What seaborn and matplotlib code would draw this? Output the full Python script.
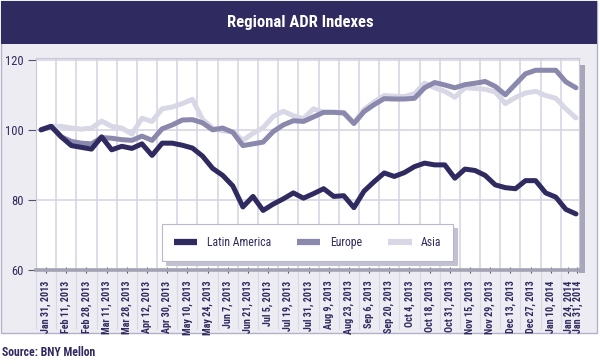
import matplotlib
matplotlib.use("Agg")

import matplotlib.pyplot as plt
import matplotlib.transforms as mtransforms
import numpy as np
import pandas as pd
import seaborn as sns
from matplotlib import font_manager
from matplotlib.lines import Line2D
from matplotlib.patches import Rectangle


# weekly index values, Jan 31 2013 -> Jan 31 2014 (54 points)
latin_america = [100, 101, 98, 95.5, 95, 94.5, 98, 94.3, 95.3, 94.7,
                 96, 92.7, 96.2, 96.2, 95.6, 94.8, 92.5, 89, 87, 84,
                 78, 81, 77, 78.8, 80.3, 82, 80.5, 81.8, 83.2, 81,
                 81.2, 77.8, 82.5, 85.2, 87.7, 86.7, 87.8, 89.5, 90.5, 90,
                 90, 86.2, 88.8, 88.4, 87, 84.3, 83.5, 83.2, 85.5, 85.5,
                 82, 80.8, 77.3, 76]
europe = [100, 101, 98, 96.7, 96.2, 96, 97.8, 97.6, 97.2, 97,
          98.2, 97, 100.3, 101.4, 102.8, 102.9, 102, 100, 100.5, 99.3,
          95.5, 96, 96.5, 99.5, 101.4, 102.6, 102.4, 103.7, 105, 105,
          104.8, 101.8, 105.2, 107.2, 108.9, 108.8, 108.8, 109, 112, 113.5,
          112.8, 112, 112.9, 113.3, 113.8, 112.4, 110, 113, 116, 117,
          117, 117, 113.7, 112]
asia = [100, 101, 101, 100.5, 100.2, 100.5, 102.5, 101, 100.5, 98.8,
        103.3, 102.4, 106, 106.5, 107.5, 108.7, 103, 100.5, 99.7, 99.5,
        97, 99, 100.6, 103.8, 105.3, 104, 103.2, 106, 105, 105,
        105, 102, 105.8, 108, 109.8, 109.6, 109.5, 110.3, 113.3, 112,
        111, 109.3, 112, 111.8, 111.6, 110.8, 107.5, 109.2, 110.5, 111,
        109.8, 109, 106, 103.4]

tick_labels = ["Jan 31, 2013", "Feb 11, 2013", "Feb 28, 2013", "Mar 11, 2013", "Mar 28, 2013",
               "Apr 12, 2013", "Apr 30, 2013", "May 10, 2013", "May 24, 2013", "Jun 7, 2013",
               "Jun 21, 2013", "Jul 5, 2013", "Jul 19, 2013", "Jul 31, 2013", "Aug 9, 2013",
               "Aug 23, 2013", "Sep 6, 2013", "Sep 20, 2013", "Oct 4, 2013", "Oct 18, 2013",
               "Oct 31, 2013", "Nov 15, 2013", "Nov 29, 2013", "Dec 13, 2013", "Dec 27, 2013",
               "Jan 10, 2014", "Jan 24, 2014", "Jan 31, 2014"]

regions = ["Latin America", "Europe", "Asia"]
colors = {"Latin America": "#2f2a5f", "Europe": "#8b88ae", "Asia": "#d8d7e6"}

NAVY = "#2f2a5f"
PANEL = "#ececf2"
GRID = "#d3d2e2"

sns.set_theme(style="white")
installed = {f.name for f in font_manager.fontManager.ttflist}
candidates = ["Roboto Condensed", "Liberation Sans Narrow", "Open Sans Condensed", "Roboto", "DejaVu Sans"]
NARROW = next(name for name in candidates if name in installed or name == "DejaVu Sans")
plt.rcParams["font.family"] = [NARROW, "DejaVu Sans"]

wide = pd.DataFrame({"week": np.arange(len(latin_america)),
                     "Latin America": latin_america, "Europe": europe, "Asia": asia})
long = wide.melt(id_vars="week", var_name="region", value_name="index")

W, H = 600, 364
fig = plt.figure(figsize=(W / 100, H / 100), dpi=100)
fig.patch.set_facecolor("white")

# outer panel, title bar, plot shadow
fig.patches.append(Rectangle((1 / W, 1 - 333 / H), 596 / W, 332 / H, transform=fig.transFigure,
                             facecolor=PANEL, edgecolor="#b4b2c9", lw=1, zorder=-3))
fig.patches.append(Rectangle((1 / W, 1 - 44 / H), 596 / W, 43 / H, transform=fig.transFigure,
                             facecolor=NAVY, edgecolor="none", zorder=-2))
fig.patches.append(Rectangle((579 / W, 1 - 273 / H), 6 / W, 208 / H, transform=fig.transFigure,
                             facecolor="#a8a7b9", edgecolor="none", zorder=-1))
fig.text(0.5, 1 - 23 / H, "Regional ADR Indexes", ha="center", va="center", color="white",
         fontsize=12, fontweight="bold")
fig.text(2 / W, 1 - 352 / H, "Source: BNY Mellon", ha="left", va="center", color=NAVY,
         fontsize=8.5, fontweight="bold")

ax = fig.add_axes([36 / W, 1 - 270 / H, 543 / W, 212 / H])
ax.set_facecolor("white")

sns.lineplot(data=long, x="week", y="index", hue="region", hue_order=["Asia", "Europe", "Latin America"],
             palette=colors, linewidth=3.6, legend=False, ax=ax, zorder=3)

ax.set_xlim(-0.5, 53.3)
ax.set_ylim(60, 120.5)
ax.set_yticks([60, 80, 100, 120])
ax.set_xlabel("")
ax.set_ylabel("")

label_pos = list(np.arange(0, 52, 2) + 0.5) + [52.25, 53.15]
ax.set_xticks(label_pos)
ax.set_xticklabels(tick_labels, rotation=90, fontsize=7.2, fontweight="bold", color=NAVY)
grid_pos = np.arange(1.5, 52, 2)
ax.set_xticks(grid_pos, minor=True)

ax.grid(which="minor", axis="x", color=GRID, lw=1.1)
ax.grid(which="major", axis="y", color=GRID, lw=1.1)
ax.grid(which="major", axis="x", visible=False)
ax.set_axisbelow(True)

ax.tick_params(axis="x", which="major", direction="inout", length=5, width=0.8, color="#5a5870",
               pad=5, bottom=True)
ax.tick_params(axis="x", which="minor", length=0)
ax.tick_params(axis="y", which="major", direction="out", length=6, width=0.8, color="#55536a",
               labelsize=9, labelcolor=NAVY, pad=3, left=True)

for side in ["top", "left", "right"]:
    ax.spines[side].set_color("#c9c8d8")
    ax.spines[side].set_linewidth(0.8)
ax.spines["bottom"].set_color("#a3a2b4")
ax.spines["bottom"].set_linewidth(2.6)

# separators between the date labels
trans = mtransforms.blended_transform_factory(ax.transData, ax.transAxes)
for gx in [-0.5] + list(grid_pos):
    ax.plot([gx, gx], [0, -0.28], transform=trans, clip_on=False, color="#d9d8e5", lw=0.8)

handles = [Line2D([0], [0], color=colors[r], lw=4.5, solid_capstyle="butt") for r in regions]
leg = ax.legend(handles, regions, loc="center", bbox_to_anchor=(0.5, 0.13), ncol=3,
                frameon=True, fancybox=False, edgecolor="#b9b8cb", facecolor="white", framealpha=1,
                fontsize=8.5, handlelength=2.0, handletextpad=0.8, columnspacing=2.2, borderpad=1.0,
                shadow={"ox": 3, "oy": -3, "color": "#c2c1d0", "alpha": 1})
leg.get_frame().set_linewidth(0.8)
for t in leg.get_texts():
    t.set_color(NAVY)

fig.savefig("out.png", dpi=100)
